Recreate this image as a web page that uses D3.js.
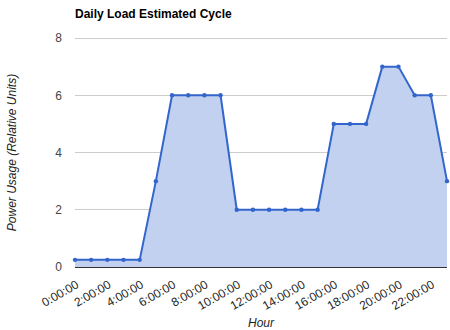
<!DOCTYPE html>
<html>
<head>
<meta charset="utf-8">
<script src="https://cdn.jsdelivr.net/npm/d3@7"></script>
<style>
  html, body { margin: 0; padding: 0; background: #fff; }
  text { font-family: "Liberation Sans", Arial, sans-serif; }
</style>
</head>
<body>
<svg id="chart" width="450" height="330"></svg>
<script>
// Hourly load profile over one day
const hours = d3.range(0, 24);
const hourLabels = hours.map(h => h + ":00:00");
const loadValues = [0.25, 0.25, 0.25, 0.25, 0.25, 3, 6, 6, 6, 6, 2, 2, 2, 2, 2, 2, 5, 5, 5, 7, 7, 6, 6, 3];
const yTicks = [0, 2, 4, 6, 8];
const xTickHours = d3.range(0, 24, 2);

const svg = d3.select("#chart");
const margin = { left: 75, right: 3, top: 38, bottom: 63 };
const width = 450, height = 330;

const x = d3.scaleLinear().domain([0, 23]).range([margin.left, width - margin.right]);
const y = d3.scaleLinear().domain([0, 8]).range([height - margin.bottom, margin.top]);

// gridlines
svg.append("g")
  .selectAll("line")
  .data(yTicks.filter(d => d !== 0))
  .join("line")
  .attr("x1", margin.left).attr("x2", width - margin.right)
  .attr("y1", d => y(d)).attr("y2", d => y(d))
  .attr("stroke", "#cccccc").attr("stroke-width", 1).attr("shape-rendering", "crispEdges");

// y axis labels
const yAxis = d3.axisLeft(y).tickValues(yTicks).tickSize(0).tickPadding(13);
const gy = svg.append("g").attr("transform", `translate(${margin.left},0)`).call(yAxis);
gy.select(".domain").remove();
gy.selectAll("text").attr("font-size", 12).attr("fill", "#444").attr("font-family", "Liberation Sans, Arial, sans-serif");

// area + line
const area = d3.area().x((d, i) => x(hours[i])).y0(y(0)).y1(d => y(d));
const line = d3.line().x((d, i) => x(hours[i])).y(d => y(d));

svg.append("path").datum(loadValues).attr("d", area).attr("fill", "#c2d1f0");

// baseline
svg.append("line")
  .attr("x1", margin.left).attr("x2", width - margin.right)
  .attr("y1", y(0)).attr("y2", y(0))
  .attr("stroke", "#333").attr("stroke-width", 1).attr("shape-rendering", "crispEdges");

svg.append("path").datum(loadValues).attr("d", line)
  .attr("fill", "none").attr("stroke", "#3366cc").attr("stroke-width", 2).attr("stroke-linejoin", "round");

svg.append("g").selectAll("circle").data(loadValues).join("circle")
  .attr("cx", (d, i) => x(hours[i])).attr("cy", d => y(d)).attr("r", 2.2)
  .attr("fill", "#3366cc");

// x axis labels, slanted
const xAxis = d3.axisBottom(x).tickValues(xTickHours).tickSize(0).tickFormat(h => hourLabels[h]);
const gx = svg.append("g").attr("transform", `translate(0,${y(0)})`).call(xAxis);
gx.select(".domain").remove();
gx.selectAll("text")
  .attr("font-size", 12).attr("fill", "#222").attr("font-family", "Liberation Sans, Arial, sans-serif")
  .attr("text-anchor", "end")
  .attr("dy", null).attr("y", 0)
  .attr("transform", "translate(4,20) rotate(-30)");

// titles
svg.append("text").attr("x", margin.left).attr("y", 18)
  .attr("font-size", 12).attr("font-weight", "bold").attr("fill", "#000")
  .text("Daily Load Estimated Cycle");

svg.append("text").attr("transform", `translate(16,${(y(0) + y(8)) / 2}) rotate(-90)`)
  .attr("text-anchor", "middle").attr("font-size", 12).attr("font-style", "italic").attr("fill", "#222")
  .text("Power Usage (Relative Units)");

svg.append("text").attr("x", (margin.left + width - margin.right) / 2).attr("y", 327)
  .attr("text-anchor", "middle").attr("font-size", 12).attr("font-style", "italic").attr("fill", "#222")
  .text("Hour");
</script>
</body>
</html>
